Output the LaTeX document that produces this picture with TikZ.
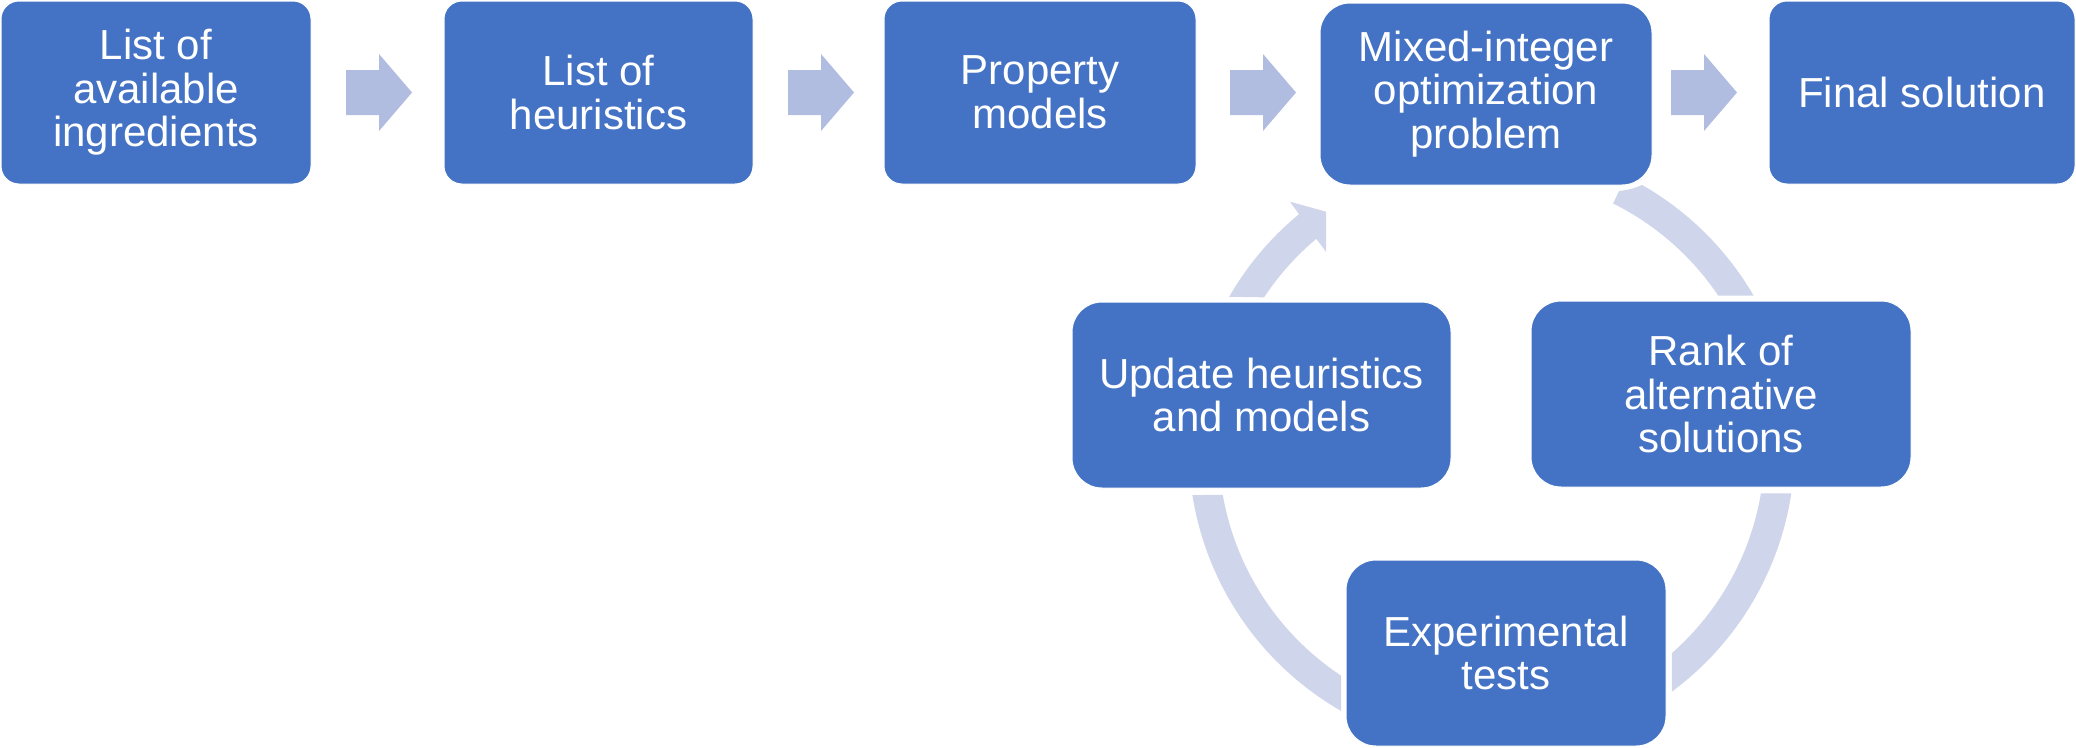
\documentclass[tikz,border=0pt]{standalone}
\usepackage{fontspec}
\setmainfont{Liberation Sans}
\definecolor{boxblue}{HTML}{4472C4}
\definecolor{arrowblue}{RGB}{176,188,224}
\definecolor{ringblue}{RGB}{207,213,234}
\def\ringcx{1491.7}
\def\ringcy{448}
\def\rin{273}
\def\rout{303}
\begin{document}
\begin{tikzpicture}[x=1pt,y=-1pt,
  box/.style={rectangle, rounded corners=18pt, fill=boxblue, draw=white, line width=1pt,
    text=white, align=center, inner sep=0pt, font=\fontsize{42}{43.5}\selectfont},
  cbox/.style={box, rounded corners=30pt},
  ringseg/.style={fill=ringblue},
  rarrow/.pic={\fill[arrowblue] (0,-22.5) -- (33,-22.5) -- (33,-38.5) -- (66,0) -- (33,38.5) -- (33,22.5) -- (0,22.5) -- cycle;}]
\useasboundingbox (0,0) rectangle (2076,747);

% cycle ring segments
\fill[ringseg] plot[domain=-33.9:-63.6, samples=40] ({\ringcx+\rin*cos(\x)},{\ringcy+\rin*sin(\x)})
  -- (1619,191) .. controls (1628,190) and (1636,188) .. (1641.7,185)
  -- plot[domain=-60.3:-30.2, samples=40] ({\ringcx+\rout*cos(\x)},{\ringcy+\rout*sin(\x)}) -- cycle;
\fill[ringseg] plot[domain=9.56:48.7, samples=40] ({\ringcx+\rin*cos(\x)},{\ringcy+\rin*sin(\x)})
  -- plot[domain=53.5:8.59, samples=40] ({\ringcx+\rout*cos(\x)},{\ringcy+\rout*sin(\x)}) -- cycle;
\fill[ringseg] plot[domain=123.5:170.1, samples=40] ({\ringcx+\rin*cos(\x)},{\ringcy+\rin*sin(\x)})
  -- plot[domain=171.07:119.8, samples=40] ({\ringcx+\rout*cos(\x)},{\ringcy+\rout*sin(\x)}) -- cycle;
\fill[ringseg] plot[domain=-150.06:-129.5, samples=40] ({\ringcx+\rout*cos(\x)},{\ringcy+\rout*sin(\x)})
  -- (1290,201.7) -- (1326,211.7) -- (1326,251.7) -- (1316.7,239.3)
  -- plot[domain=-130:-146.5, samples=40] ({\ringcx+\rin*cos(\x)},{\ringcy+\rin*sin(\x)}) -- cycle;

% top row
\node[box, minimum width=310pt, minimum height=183pt] (b1) at (156,92.5) {List of\\available\\ingredients};
\node[box, minimum width=309pt, minimum height=183pt] (b2) at (598.5,92.5) {List of\\heuristics};
\node[box, minimum width=312pt, minimum height=183pt] (b3) at (1040,92.5) {Property\\models};
\node[cbox, minimum width=332pt, minimum height=182pt] (b4) at (1486,94) {Mixed-integer\\optimization\\problem};
\node[box, minimum width=306pt, minimum height=183pt] (b5) at (1922,92.5) {Final solution};

\pic at (346,92.5) {rarrow};
\pic at (788,92.5) {rarrow};
\pic at (1230,92.5) {rarrow};
\pic at (1671,92.5) {rarrow};

% cycle boxes
\node[cbox, minimum width=379pt, minimum height=186pt] (u) at (1261.5,395) {Update heuristics\\and models};
\node[cbox, minimum width=380pt, minimum height=186pt] (r) at (1721,394) {Rank of\\alternative\\solutions};
\node[cbox, minimum width=320pt, minimum height=186pt] (e) at (1506,653) {Experimental\\tests};
\end{tikzpicture}
\end{document}
